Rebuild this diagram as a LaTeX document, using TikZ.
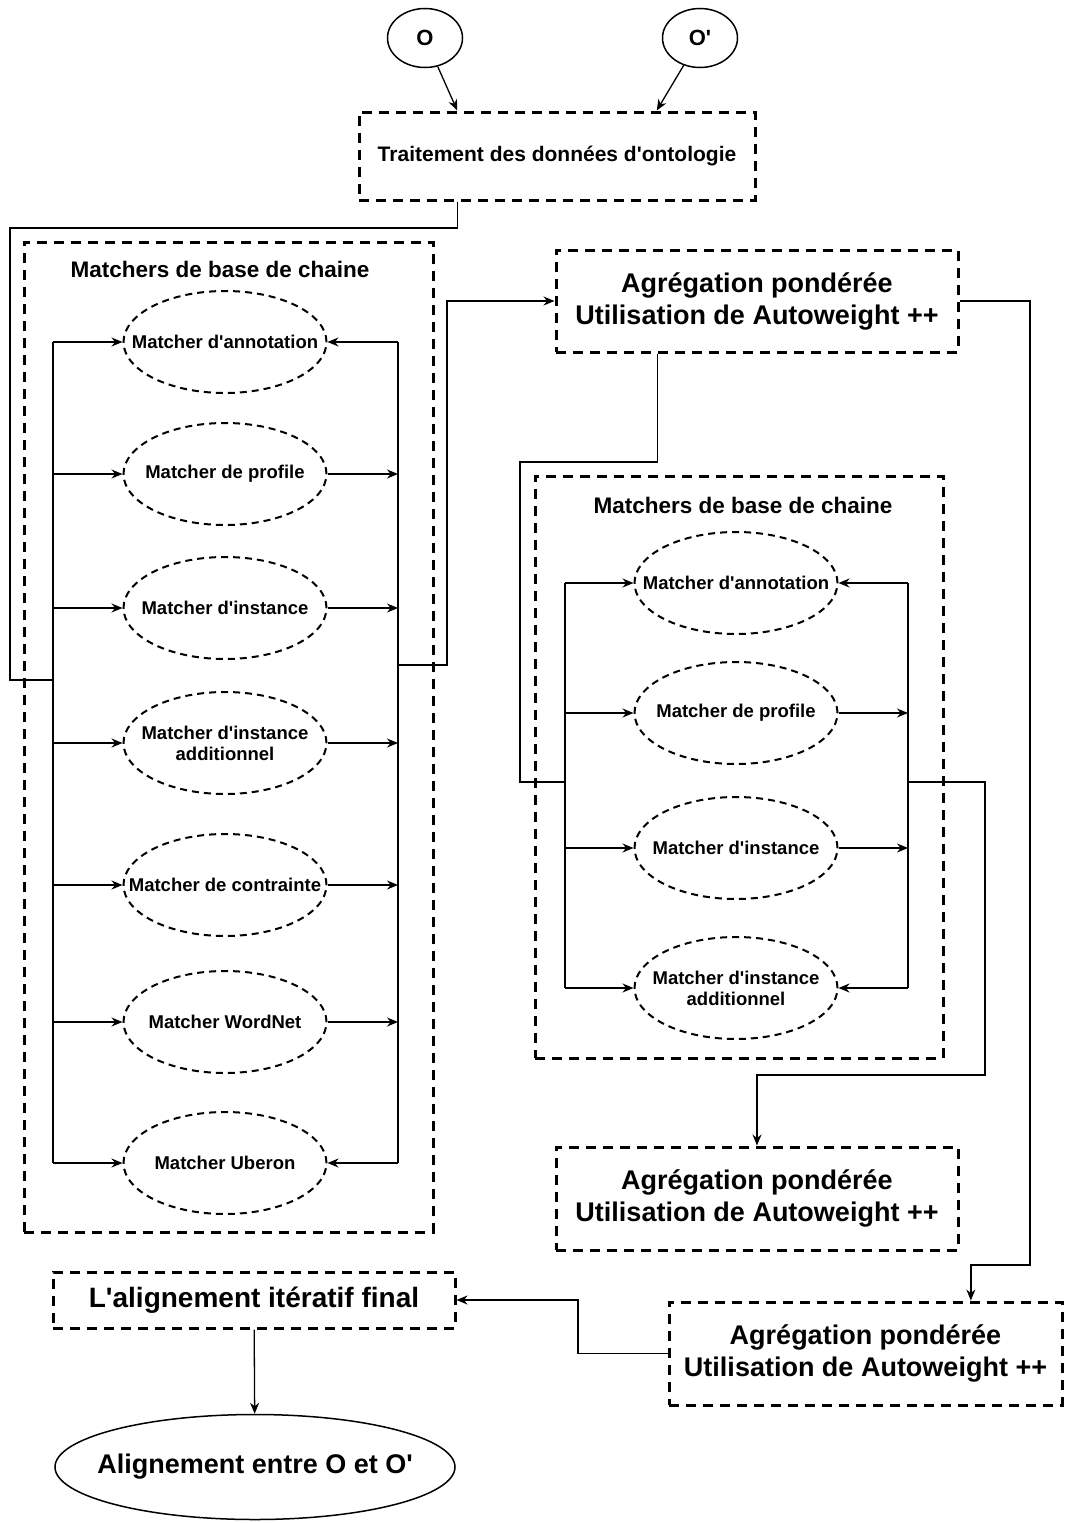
\documentclass[tikz,border=0pt]{standalone}
\usepackage{fontspec}
\setmainfont{Liberation Sans}[Ligatures=TeXOff]
\usetikzlibrary{shapes.geometric,arrows.meta,calc}

\begin{document}
\begin{tikzpicture}[x=1pt,y=-1pt,
  fsz/.style 2 args={font=\bfseries\fontsize{#1}{#2}\selectfont},
  dbox/.style={draw,line width=3pt,dash pattern=on 10pt off 7pt,rectangle,inner sep=0pt,align=center},
  mell/.style={draw,ellipse,line width=2pt,dash pattern=on 7pt off 5pt,minimum width=203pt,minimum height=102pt,inner sep=0pt},
  mtxt/.style={inner sep=0pt,align=center,fsz={18.5}{21}},
  sell/.style={draw,ellipse,line width=1.5pt,inner sep=0pt},
  wire/.style={line width=1.3pt},
  arr/.style={wire,-{Stealth[length=11pt,width=9pt]}}
]
\useasboundingbox (0,0) rectangle (1070,1523);

% inputs and preprocessing
\node[sell,minimum width=75pt,minimum height=59pt,fsz={22}{26}] (O) at (425,38) {O};
\node[sell,minimum width=75pt,minimum height=59pt,fsz={22}{26}] (Op) at (700,38) {O'};
\node[dbox,minimum width=396pt,minimum height=88pt,fsz={21}{25}] (T) at (557,156) {Traitement des données d'ontologie};
\coordinate (Tin1) at ($(T.north west)!0.25!(T.north east)$);
\coordinate (Tin2) at ($(T.north west)!0.75!(T.north east)$);
\draw[arr] (O) -- (Tin1);
\draw[arr] (Op) -- (Tin2);

% first group of string matchers
\node[dbox,minimum width=409pt,minimum height=990pt] (G1) at (228.5,737) {};
\node[fsz={22.5}{26},inner sep=0pt] (G1t) at (220,269) {Matchers de base de chaine};
\foreach \i/\y/\t in {1/342/{Matcher d'annotation},2/474/{Matcher de profile},3/608/{Matcher d'instance},
    4/743/{Matcher d'instance\\additionnel},5/885/{Matcher de contrainte},6/1022/{Matcher WordNet},7/1163/{Matcher Uberon}}{
  \node[mell] (m\i) at (225,\y) {};
  \node[mtxt] (m\i t) at (m\i) {\t};
  \coordinate (L\i) at (53,\y);
  \coordinate (R\i) at (398,\y);
  \draw[arr] (L\i) -- (m\i.west);
}
\draw[wire] (L1) -- (L7);
\draw[wire] (R1) -- (R7);
\draw[arr] (R1) -- (m1.east);
\foreach \i in {2,...,6}{ \draw[arr] (m\i.east) -- (R\i); }
\draw[arr] (R7) -- (m7.east);

\coordinate (Tout) at ($(T.south west)!0.25!(T.south east)$);
\coordinate (Lin) at (53,680);
\coordinate (k0) at (10,228);
\draw[wire] (Tout) |- (k0) |- (Lin);

% first weighted aggregation
\node[dbox,minimum width=402pt,minimum height=102pt,fsz={27}{32}] (A1) at (757,301) {Agrégation pondérée\\Utilisation de Autoweight ++};
\coordinate (Rout) at (398,665);
\coordinate (k1) at (447,665);
\draw[arr] (Rout) -- (k1) |- (A1.west);

% second group of string matchers
\node[dbox,minimum width=408pt,minimum height=582pt] (G2) at (739,767) {};
\node[fsz={22.5}{26},inner sep=0pt] (G2t) at (743,505) {Matchers de base de chaine};
\foreach \i/\y/\t in {1/583/{Matcher d'annotation},2/713/{Matcher de profile},3/848/{Matcher d'instance},
    4/988/{Matcher d'instance\\additionnel}}{
  \node[mell] (n\i) at (736,\y) {};
  \node[mtxt] (n\i t) at (n\i) {\t};
  \coordinate (P\i) at (565,\y);
  \coordinate (Q\i) at (908,\y);
  \draw[arr] (P\i) -- (n\i.west);
}
\draw[wire] (P1) -- (P4);
\draw[wire] (Q1) -- (Q4);
\draw[arr] (Q1) -- (n1.east);
\draw[arr] (n2.east) -- (Q2);
\draw[arr] (n3.east) -- (Q3);
\draw[arr] (Q4) -- (n4.east);

\coordinate (A1out) at ($(A1.south west)!0.254!(A1.south east)$);
\coordinate (k2) at (520,462);
\coordinate (Pin) at (565,782);
\draw[wire] (A1out) |- (k2) |- (Pin);

% second weighted aggregation
\node[dbox,minimum width=402pt,minimum height=103pt,fsz={27}{32}] (A2) at (757,1198.5) {Agrégation pondérée\\Utilisation de Autoweight ++};
\coordinate (Qout) at (908,782);
\coordinate (k3) at (985,1075);
\draw[arr] (Qout) -| (k3) -| (A2.north);

% third weighted aggregation
\node[dbox,minimum width=393pt,minimum height=103pt,fsz={27}{32}] (A3) at (865.5,1353.5) {Agrégation pondérée\\Utilisation de Autoweight ++};
\coordinate (A3in) at ($(A3.north west)!0.766!(A3.north east)$);
\coordinate (k4) at (1030,1265);
\draw[arr] (A1.east) -| (k4) -| (A3in);

% final iterative alignment
\node[dbox,minimum width=402pt,minimum height=56pt,fsz={28}{32}] (LA) at (254,1300) {L'alignement itératif final};
\coordinate (k5) at (578,1300);
\draw[arr] (A3.west) -| (k5) -- (LA.east);

\node[sell,minimum width=400pt,minimum height=105pt] (F) at (255,1467) {};
\node[inner sep=0pt,fsz={27}{32}] (Ft) at (F) {Alignement entre O et O'};
\draw[arr] (LA) -- (F);
\end{tikzpicture}
\end{document}
